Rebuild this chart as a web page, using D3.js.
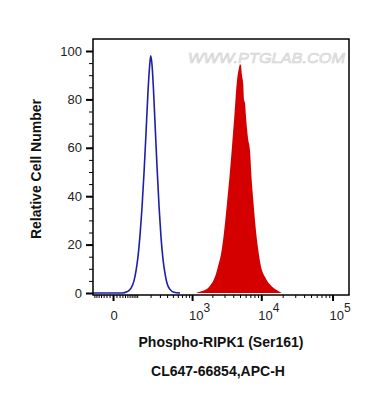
<!DOCTYPE html>
<html>
<head>
<meta charset="utf-8">
<script src="https://cdn.jsdelivr.net/npm/d3@7"></script>
<style>
    body { margin: 0; background: #fff; }
    svg { display: block; font-family: "Liberation Sans", Arial, sans-serif; }
    .tick-label { font-size: 13px; fill: #222; }
    .axis-title { font-size: 14px; font-weight: bold; fill: #111; }
</style>
</head>
<body>
<svg id="chart" width="370" height="409"></svg>
<script>
// === DATA (fluorescence value, relative count) ===

// isotype / unstained control (blue outline)
const CONTROL_X = [-77, 29, 48, 67, 82, 93, 105, 118, 131, 146, 161, 177, 190, 201,
                   214, 228, 244, 266, 289, 314, 340, 369, 399, 448, 521, 650];
const CONTROL_Y = [0, 0, 0.5, 2, 5, 9, 15, 24, 35, 50, 66, 83, 93, 98,
                   94, 84, 70, 52, 36, 23, 14, 8, 4, 1.5, 0.3, 0];

// Phospho-RIPK1 stained sample (red fill)
const SAMPLE_X = [1146, 1315, 1560, 1847, 2185, 2415, 2732, 2948, 3288, 3536, 3801, 3968,
                  4141, 4308, 4481, 4676, 4832, 4993, 5159, 5330, 5562, 5691, 5880, 6076,
                  6277, 6485, 6921, 7268, 7708, 8146, 9069, 9900, 11273, 13256, 16470, 19363];
const SAMPLE_Y = [0, 0.5, 1.2, 3, 6.7, 11, 17.8, 25, 38.4, 48, 59, 66,
                  72.8, 80, 86.6, 91, 93, 94.5, 94, 90, 86, 80, 78.5, 72.8,
                  68, 64, 59, 48, 38.4, 30, 17.8, 11, 6.7, 3.5, 1.2, 0];

const Y_TICKS = [0, 20, 40, 60, 80, 100];
const X_MAJOR = [0, 1e3, 1e4, 1e5];
const X_LABELS = ['0', '10|3', '10|4', '10|5'];

// === LAYOUT ===

const frame = { left: 93, right: 349, top: 39, bottom: 295 };

const svg = d3.select('#chart');

// biexponential-like display axis
const x = d3.scaleSymlog()
    .constant(85)
    .domain([-77, 170000])
    .range([frame.left, frame.right]);

const y = d3.scaleLinear()
    .domain([0, 100])
    .range([293, 51]);

// === HISTOGRAMS ===

const sample = SAMPLE_X.map((v, i) => [v, SAMPLE_Y[i]]);
const control = CONTROL_X.map((v, i) => [v, CONTROL_Y[i]]);

svg.append('path')
    .datum(sample)
    .attr('fill', '#d40000')
    .attr('d', d3.area()
        .x(d => x(d[0]))
        .y0(y(0))
        .y1(d => y(d[1]))
        .curve(d3.curveMonotoneX));

svg.append('path')
    .datum(control)
    .attr('fill', 'none')
    .attr('stroke', '#1e1eac')
    .attr('stroke-width', 1.6)
    .attr('d', d3.line()
        .x(d => x(d[0]))
        .y(d => y(d[1]))
        .curve(d3.curveMonotoneX));

// watermark
svg.append('text')
    .attr('x', 188)
    .attr('y', 63)
    .attr('textLength', 157)
    .attr('lengthAdjust', 'spacingAndGlyphs')
    .style('font-size', '15px')
    .style('font-style', 'italic')
    .style('fill', '#ececec')
    .style('stroke', '#d2d2d2')
    .style('stroke-width', 0.6)
    .text('WWW.PTGLAB.COM');

// === FRAME ===

svg.append('rect')
    .attr('x', frame.left)
    .attr('y', frame.top)
    .attr('width', frame.right - frame.left)
    .attr('height', frame.bottom - frame.top)
    .attr('fill', 'none')
    .attr('stroke', '#000')
    .attr('stroke-width', 1.5);

// === Y AXIS ===

const yAxis = svg.append('g').attr('transform', `translate(${frame.left},0)`);

yAxis.call(d3.axisLeft(y).tickValues(d3.range(0, 101, 5)).tickSize(4).tickFormat(''))
    .call(g => g.select('.domain').remove())
    .call(g => g.selectAll('line').attr('stroke', '#000'));

yAxis.append('g')
    .call(d3.axisLeft(y).tickValues(Y_TICKS).tickSize(7).tickPadding(4))
    .call(g => g.select('.domain').remove())
    .call(g => g.selectAll('line').attr('stroke', '#000').attr('stroke-width', 2))
    .call(g => g.selectAll('text')
        .attr('class', 'tick-label')
        .attr('font-family', null)
        .attr('font-size', null));

// === X AXIS ===

const xMinor = [];
[-70, -60, -50, -40, -30, -20, -10, 10, 20, 30, 40, 50, 60, 70, 80, 90].forEach(v => xMinor.push(v));
[1e2, 1e3, 1e4].forEach(dec => {
    for (let k = (dec === 1e2 ? 1 : 2); k <= 9; k++) xMinor.push(k * dec);
});

const xAxis = svg.append('g').attr('transform', `translate(0,${frame.bottom})`);

xAxis.call(d3.axisBottom(x).tickValues(xMinor).tickSize(3).tickFormat(''))
    .call(g => g.select('.domain').remove())
    .call(g => g.selectAll('line').attr('stroke', '#000'));

xAxis.append('g')
    .call(d3.axisBottom(x).tickValues(X_MAJOR).tickSize(6).tickFormat(''))
    .call(g => g.select('.domain').remove())
    .call(g => g.selectAll('line').attr('stroke', '#000').attr('stroke-width', 2));

// tick labels with superscript exponents
X_MAJOR.forEach((v, i) => {
    const [base, exp] = X_LABELS[i].split('|');
    const t = svg.append('text')
        .attr('class', 'tick-label')
        .attr('y', 320);
    if (!exp) {
        t.attr('x', x(v) + 1).attr('text-anchor', 'middle').text(base);
        return;
    }
    t.attr('x', x(v) - 3).text(base);
    t.append('tspan')
        .attr('dy', -8)
        .style('font-size', '12px')
        .text(exp);
});

// === AXIS TITLES ===

svg.append('text')
    .attr('class', 'axis-title')
    .attr('x', 221)
    .attr('y', 347)
    .attr('text-anchor', 'middle')
    .text('Phospho-RIPK1 (Ser161)');

svg.append('text')
    .attr('class', 'axis-title')
    .attr('x', 218)
    .attr('y', 376)
    .attr('text-anchor', 'middle')
    .text('CL647-66854,APC-H');

svg.append('text')
    .attr('class', 'axis-title')
    .attr('transform', 'translate(36,169) rotate(-90)')
    .attr('text-anchor', 'middle')
    .attr('dy', '0.35em')
    .text('Relative Cell Number');
</script>
</body>
</html>
